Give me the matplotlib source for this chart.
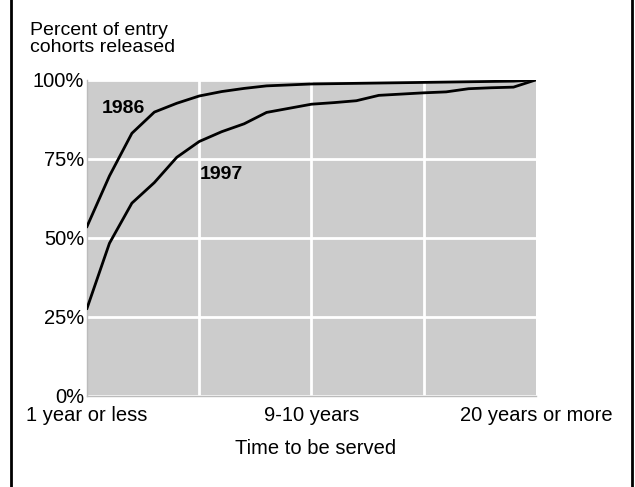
import numpy as np
import matplotlib
matplotlib.use("Agg")
import matplotlib.pyplot as plt
from matplotlib.lines import Line2D

plt.rcParams['font.family'] = ['Liberation Sans', 'DejaVu Sans']

# datos (0 = 1 año o menos ... 20 = 20 años o mas)
tiempo = list(range(21))
rel_1986 = [53.6, 69.6, 83.1, 89.8, 92.6, 94.9, 96.3, 97.3, 98.1, 98.4, 98.7,
            98.8, 98.9, 99.0, 99.1, 99.2, 99.3, 99.4, 99.5, 99.6, 100.0]
rel_1997 = [27.7, 48.3, 61.0, 67.5, 75.5, 80.5, 83.6, 86.1, 89.7, 91.0, 92.3,
            92.8, 93.4, 95.1, 95.5, 95.9, 96.2, 97.2, 97.5, 97.7, 100.0]
xticks_pos = [0, 10, 20]
xticks_lab = ["1 year or less", "9-10 years", "20 years or more"]
yticks_pos = [0, 25, 50, 75, 100]
yticks_lab = ["0%", "25%", "50%", "75%", "100%"]

fs = 14.5

fig = plt.figure(figsize=(6.35, 4.87), dpi=100)
ax = fig.add_axes([0.137, 0.187, 0.707, 0.649])
ax.set_facecolor("#cccccc")

ax.plot(tiempo, rel_1986, color="black", lw=2, zorder=3)
ax.plot(tiempo, rel_1997, color="black", lw=2, zorder=3)

ax.set_xlim(0, 20)
ax.set_ylim(0, 100)
ax.set_xticks([5, 10, 15])
ax.set_yticks(yticks_pos)
ax.grid(True, color="white", lw=2, zorder=1)
ax.set_axisbelow(True)
for s in ax.spines.values():
    s.set_color("#bbbbbb")
    s.set_linewidth(1)
ax.spines["top"].set_visible(False)
ax.spines["right"].set_visible(False)
ax.tick_params(length=0, labelsize=fs, colors="black", pad=2)
ax.set_yticklabels(yticks_lab)
ax.set_xticklabels([])
for p, l in zip(xticks_pos, xticks_lab):
    ax.annotate(l, (p, 0), xytext=(0, -7.5), textcoords="offset points",
                ha="center", va="top", fontsize=fs, annotation_clip=False)
ax.annotate("Time to be served", (10, 0), xytext=(3, -31), textcoords="offset points",
            ha="center", va="top", fontsize=fs, annotation_clip=False)

ax.text(0.65, 91, "1986", fontsize=14, fontweight="bold", ha="left", va="center")
ax.text(5.03, 70, "1997", fontsize=14, fontweight="bold", ha="left", va="center")

fig.text(30 / 635, 1 - 22 / 487, "Percent of entry\ncohorts released", fontsize=14,
         ha="left", va="top", linespacing=0.98)

# borde de la figura
fig.add_artist(Line2D([11 / 635, 11 / 635], [0, 1], color="black", lw=2))
fig.add_artist(Line2D([632 / 635, 632 / 635], [0, 1], color="black", lw=2))

fig.savefig("out.png", dpi=100)
